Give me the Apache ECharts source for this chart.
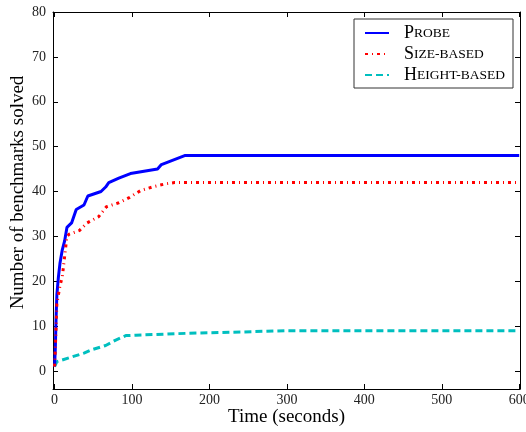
<!DOCTYPE html>
<html>
<head>
<meta charset="utf-8">
<script src="https://cdn.jsdelivr.net/npm/echarts@6/dist/echarts.min.js"></script>
<style>html,body{margin:0;padding:0;background:#fff;}#c{width:526px;height:432px;}</style>
</head>
<body>
<div id="c"></div>
<script>
// Data
const seriesNames = ['Probe', 'Size-based', 'Height-based'];
const probeTime   = [0, 1, 2, 3, 5, 7, 10, 13, 16, 22, 28, 38, 43, 60, 66, 70, 83, 98, 133, 138, 168, 600];
const probeSolved = [1, 5, 12, 17, 21, 24, 27, 29, 32, 33, 36, 37, 39, 40, 41, 42, 43, 44, 45, 46, 48, 48];
const sizeTime    = [0, 1, 2, 3, 5, 7, 10, 12, 14, 16, 19, 32, 42, 57, 67, 83, 97, 111, 128, 143, 155, 600];
const sizeSolved  = [1, 5, 10, 15, 17, 19, 21, 24, 27, 30, 30.5, 31.3, 33, 34.4, 36.6, 37.5, 38.7, 40.2, 41.1, 41.7, 42, 42];
const heightTime  = [0, 3, 38, 49, 66, 79, 92, 105, 170, 240, 300, 600];
const heightSolved= [1, 2.1, 4, 4.8, 5.7, 6.9, 7.9, 8, 8.4, 8.7, 9, 9];
const xTicks = [0, 100, 200, 300, 400, 500, 600];
const yTicks = [0, 10, 20, 30, 40, 50, 60, 70, 80];

const zip = (a, b) => a.map((v, i) => [v, b[i]]);
const FONT = 'Liberation Serif';
const smallCaps = {
  'Probe': '{a|P}{b|ROBE}',
  'Size-based': '{a|S}{b|IZE-BASED}',
  'Height-based': '{a|H}{b|EIGHT-BASED}'
};

function xAx(pos, showLabel) {
  return {
    type: 'value', position: pos, min: -2, max: 601,
    name: showLabel ? 'Time (seconds)' : '', nameLocation: 'middle', nameGap: 19,
    nameMoveOverlap: false,
    nameTextStyle: { fontFamily: FONT, fontSize: 19, color: '#000' },
    axisLine: { show: true, onZero: false, lineStyle: { color: '#000', width: 1 } },
    axisTick: { show: true, inside: true, length: 5, customValues: xTicks, lineStyle: { color: '#000' } },
    axisLabel: { show: showLabel, customValues: xTicks, margin: 4, fontFamily: FONT, fontSize: 14, color: '#222' },
    splitLine: { show: false }
  };
}
function yAx(pos, showLabel) {
  return {
    type: 'value', position: pos, min: -4, max: 80,
    name: showLabel ? 'Number of benchmarks solved' : '', nameLocation: 'middle', nameGap: 25,
    nameMoveOverlap: false,
    nameTextStyle: { fontFamily: FONT, fontSize: 19, color: '#000', padding: [0, 0, 0, 16] },
    axisLine: { show: true, onZero: false, lineStyle: { color: '#000', width: 1 } },
    axisTick: { show: true, inside: true, length: 5, customValues: yTicks, lineStyle: { color: '#000' } },
    axisLabel: { show: showLabel, customValues: yTicks, margin: 7, fontFamily: FONT, fontSize: 14, color: '#222' },
    splitLine: { show: false }
  };
}

const chart = echarts.init(document.getElementById('c'), null, { renderer: 'canvas' });
chart.setOption({
  animation: false,
  backgroundColor: '#fff',
  grid: { left: 53, right: 6, top: 12, bottom: 43, containLabel: false, outerBoundsMode: 'none' },
  xAxis: [xAx('bottom', true), xAx('top', false)],
  yAxis: [yAx('left', true), yAx('right', false)],
  legend: {
    orient: 'vertical', right: 13, top: 19,
    padding: [5, 8, 4, 10], itemGap: 3, itemWidth: 24, itemHeight: 14,
    borderColor: '#333', borderWidth: 1, backgroundColor: '#fff',
    itemStyle: { opacity: 0 },
    data: seriesNames,
    formatter: n => smallCaps[n],
    textStyle: {
      padding: [0, 0, 0, 10],
      rich: {
        a: { fontFamily: FONT, fontSize: 18, color: '#000' },
        b: { fontFamily: FONT, fontSize: 13.5, color: '#000' }
      }
    }
  },
  series: [
    { name: seriesNames[0], type: 'line', data: zip(probeTime, probeSolved), symbol: 'none', z: 4,
      lineStyle: { color: '#0000ff', width: 3 }, itemStyle: { color: '#0000ff' } },
    { name: seriesNames[1], type: 'line', data: zip(sizeTime, sizeSolved), symbol: 'none', z: 5,
      lineStyle: { color: '#ff0000', width: 3, type: [3, 4, 1, 4] }, itemStyle: { color: '#ff0000' } },
    { name: seriesNames[2], type: 'line', data: zip(heightTime, heightSolved), symbol: 'none', z: 3,
      lineStyle: { color: '#00bfbf', width: 3, type: [7, 4] }, itemStyle: { color: '#00bfbf' } }
  ]
});
</script>
</body>
</html>
